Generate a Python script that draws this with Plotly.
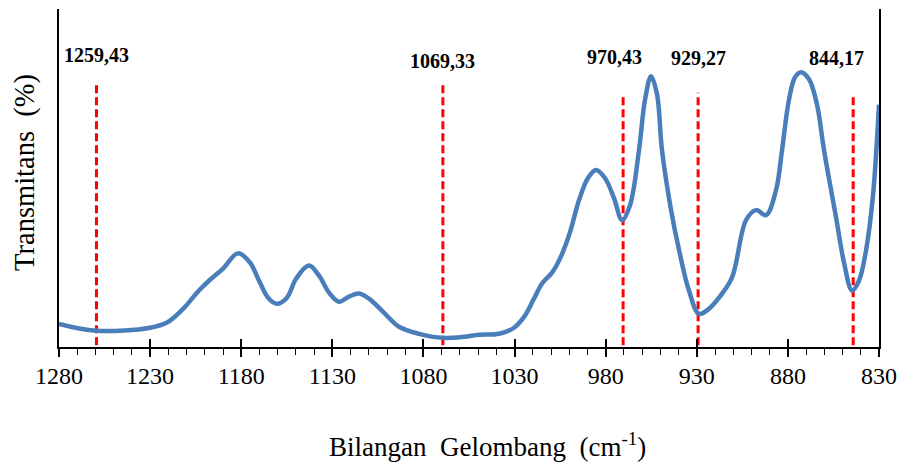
import plotly.graph_objects as go

# Spectrum (wavenumber cm-1, relative transmittance)
wavenumber = [1280, 1259.7, 1230, 1220.2, 1214.1, 1210.3, 1203.2, 1197.7, 1190, 1181.8,
              1175.2, 1170.2, 1165.3, 1160.4, 1154.9, 1149.9, 1142.8, 1137.3, 1131.8, 1126.3,
              1120.9, 1115.4, 1109.9, 1101.6, 1093.4, 1082.4, 1069.3, 1057.7, 1049.5, 1038.5,
              1030.3, 1024.8, 1019.9, 1014.9, 1009.4, 1004.5, 999.6, 994.6, 989.7, 985.3,
              980.4, 975.4, 971.0, 966.6, 961.7, 958.4, 955.1, 951.8, 949.1, 944.1,
              939.7, 934.3, 928.8, 923.3, 917.8, 910.7, 903.0, 897.5, 892.0, 886.5,
              883.2, 879.4, 876.1, 872.8, 868.4, 864.0, 860.2, 853.6, 849.2, 844.8,
              841.0, 837.1, 833.3, 830]
transmittance = [6.85, 4.8, 5.7, 7.4, 10.1, 12.2, 16.7, 19.6, 23.2, 27.7,
                 25.0, 19.6, 14.6, 12.8, 14.6, 20.2, 24.1, 21.1, 16.1, 13.4,
                 14.9, 15.8, 14.3, 10.1, 6.0, 3.9, 2.7, 3.0, 3.6, 3.9,
                 5.7, 8.9, 13.7, 18.8, 22.0, 26.8, 33.9, 43.5, 50.0, 52.4,
                 50.0, 44.0, 37.5, 42.0, 58.3, 73.2, 80.1, 74.7, 58.3, 40.5,
                 28.6, 16.7, 9.8, 11.3, 14.6, 20.5, 37.5, 40.5, 39.0, 46.4,
                 58.3, 73.2, 79.8, 81.3, 79.2, 71.7, 58.3, 38.4, 25.0, 16.7,
                 19.6, 28.6, 44.9, 71.7]

# Marked bands
peak_wn = [1259.43, 1069.33, 970.43, 929.27, 844.17]
peak_labels = ["1259,43", "1069,33", "970,43", "929,27", "844,17"]
marker_top = [77.7, 77.7, 74.2, 75.2, 74.7]
label_y = [86.3, 84.6, 85.7, 85.6, 85.6]
label_shift = [0, 0, -9, 0, -17]

x_ticks = [1280, 1230, 1180, 1130, 1080, 1030, 980, 930, 880, 830]

fig = go.Figure()

for wn, top in zip(peak_wn, marker_top):
    fig.add_trace(go.Scatter(
        x=[wn, wn], y=[0.5, top], mode="lines",
        line=dict(color="#ff0000", width=3, dash="8px,4px"),
        showlegend=False, hoverinfo="skip"))

fig.add_trace(go.Scatter(
    x=wavenumber, y=transmittance, mode="lines",
    line=dict(color="#4a7ebb", width=4.5, shape="spline", smoothing=1.0),
    showlegend=False))

for wn, lab, ly, sh in zip(peak_wn, peak_labels, label_y, label_shift):
    fig.add_annotation(x=wn, y=ly, text="<b>" + lab + "</b>", showarrow=False,
                       xshift=sh, xanchor="center", yanchor="middle",
                       font=dict(family="Liberation Serif", size=20, color="#000000"))

fig.add_annotation(xref="paper", yref="paper", x=0.523, y=-0.29,
                   xanchor="center", yanchor="middle",
                   text="Bilangan\u00a0\u00a0Gelombang\u00a0\u00a0(cm<sup>-1</sup>)",
                   showarrow=False, font=dict(family="Liberation Serif", size=27, color="#000000"))
fig.add_annotation(xref="paper", yref="paper", x=-0.0415, y=0.518,
                   xanchor="center", yanchor="middle",
                   text="Transmitans\u00a0\u00a0(%)", textangle=-90,
                   showarrow=False, font=dict(family="Liberation Serif", size=28.5, color="#000000"))

common_x = dict(range=[1280, 830], overlaying="x", matches="x", side="bottom",
                tickvals=x_ticks, showticklabels=False, showgrid=False, zeroline=False,
                showline=False, automargin=False, tickwidth=1.5, tickcolor="black")

fig.update_layout(
    width=903, height=463,
    margin=dict(l=59, r=24, t=9, b=116),
    plot_bgcolor="white", paper_bgcolor="white",
    xaxis=dict(range=[1280, 830], tickvals=x_ticks, ticktext=[str(v) for v in x_ticks],
               showgrid=False, zeroline=False, showline=True, linecolor="black", linewidth=1.5,
               ticks="outside", ticklen=6, tickwidth=1.2, tickcolor="black",
               ticklabelstandoff=0, automargin=False,
               minor=dict(dtick=10, ticks="outside", ticklen=6, tickwidth=1.2, tickcolor="black"),
               tickfont=dict(family="Liberation Serif", size=24, color="#000000")),
    xaxis2=dict(common_x, ticks="inside", ticklen=8),
    xaxis3=dict(common_x, ticks="outside", ticklen=9),
    yaxis=dict(range=[0, 100], showgrid=False, zeroline=False, showticklabels=False,
               ticks="", showline=True, mirror=True, linecolor="black", linewidth=1.5,
               automargin=False),
)
for ax in ["x2", "x3"]:
    fig.add_trace(go.Scatter(x=[1280], y=[0], xaxis=ax, mode="markers",
                             marker=dict(opacity=0), showlegend=False, hoverinfo="skip"))

fig.write_html("out.html", config={"displayModeBar": False},
               post_script="document.body.style.margin='0px';")
